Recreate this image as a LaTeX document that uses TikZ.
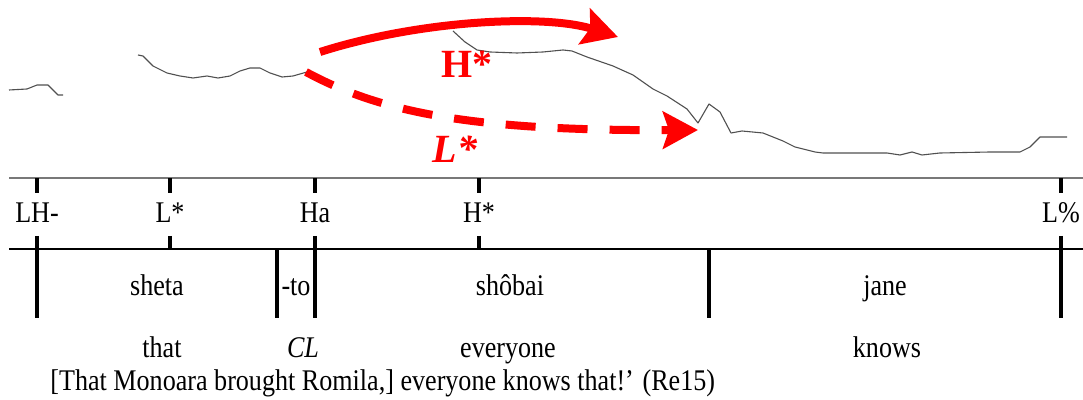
\documentclass[tikz,border=0pt]{standalone}
\usepackage{fontspec}
\setmainfont{Liberation Serif}[FakeStretch=0.87]
\newfontfamily\labfont{Liberation Serif}
\usetikzlibrary{arrows.meta}
\usepackage{xcolor}
\definecolor{Pitch}{RGB}{80,80,80}
\definecolor{TierGray}{RGB}{120,120,120}
\definecolor{Accent}{RGB}{255,0,0}
\tikzset{
  tone/.style={font=\rmfamily\fontsize{15}{17}\selectfont,anchor=base,inner sep=0pt},
  word/.style={tone},
  gloss/.style={tone},
  tonetick/.style={line width=1.6pt,black},
  tierline/.style={line width=0.6pt},
  pitch/.style={Pitch,line width=0.55pt,line join=round},
  move/.style={Accent,line width=4pt,
               -{Stealth[length=17.5pt,width=18.5pt,inset=3pt]}},
  movelab/.style={Accent,font=\labfont\fontsize{20}{22}\selectfont\bfseries,
                  anchor=base,inner sep=0pt},
}

\begin{document}
\begin{tikzpicture}[x=0.5pt,y=-0.5pt]
  \useasboundingbox (0,0) rectangle (1083,400);

  % pitch track
  \draw[pitch] (9,90) -- (27,89) -- (37,85) -- (48,85) -- (58,95) -- (63,95);
  \draw[pitch] (138,55) -- (143,56) -- (153,66) -- (167,73) -- (180,76)
    -- (193,78) -- (207,76) -- (218,78) -- (230,76) -- (240,71) -- (250,68)
    -- (260,68) -- (270,73) -- (282,77) -- (293,76) -- (307,72);
  \draw[pitch] (453,31) -- (465,42) -- (477,50) -- (490,52) -- (517,53)
    -- (543,52) -- (563,50) -- (572,51) -- (587,57) -- (613,66) -- (633,75)
    -- (653,89) -- (667,96) -- (687,109) -- (698,123) -- (709,104)
    -- (720,112) -- (731,133) -- (742,131) -- (763,133) -- (783,141)
    -- (795,147) -- (815,152) -- (823,153) -- (887,153) -- (900,155)
    -- (912,152) -- (922,155) -- (940,153) -- (990,152) -- (1020,152)
    -- (1030,147) -- (1040,137) -- (1067,137);

  % the two readings
  \coordinate (hstart) at (320,52);
  \coordinate (hend) at (618,37);
  \coordinate (lstart) at (306,72);
  \coordinate (lend) at (698,130);
  \draw[move] (hstart) .. controls (420,20) and (545,14) .. (hend);
  \draw[move,dash pattern=on 15pt off 11pt]
    (lstart) .. controls (380,112) and (470,131) .. (lend);
  \node[movelab] (hlab) at (467,78) {H*};
  \node[movelab,font=\labfont\fontsize{20}{22}\selectfont\bfseries\itshape]
    (llab) at (455,163) {L*};

  % tiers
  \draw[tierline,TierGray] (9,178) -- (1083,178);
  \draw[tierline,black] (9,249) -- (1083,249);

  % tones
  \foreach \x/\t [count=\i] in {37/LH-,170/L*,315/Ha,479/H*,1061/L\%}{
    \node[tone] (tone\i) at (\x,223) {\t};
    \draw[tonetick] (\x,178) -- (\x,193);
  }
  \foreach \x/\y in {37/318,170/249,315/318,479/249,1061/318}
    \draw[tonetick] (\x,236) -- (\x,\y);
  \foreach \x in {277,709}
    \draw[tonetick] (\x,249) -- (\x,318);

  % words and glosses
  \node[word] (sheta) at (157,296) {sheta};
  \node[word] (to) at (296,296) {-to};
  \node[word] (shobai) at (510,296) {shôbai};
  \node[word] (jane) at (885,296) {jane};
  \node[gloss] (that) at (162,358) {that};
  \node[gloss] (cl) at (303,358) {\textit{CL}};
  \node[gloss] (everyone) at (508,358) {everyone};
  \node[gloss] (knows) at (887,358) {knows};
  \node[tone,anchor=base west] (transl) at (50,391)
    {[That Monoara brought Romila,] everyone knows that!’ (Re15)};
\end{tikzpicture}
\end{document}
